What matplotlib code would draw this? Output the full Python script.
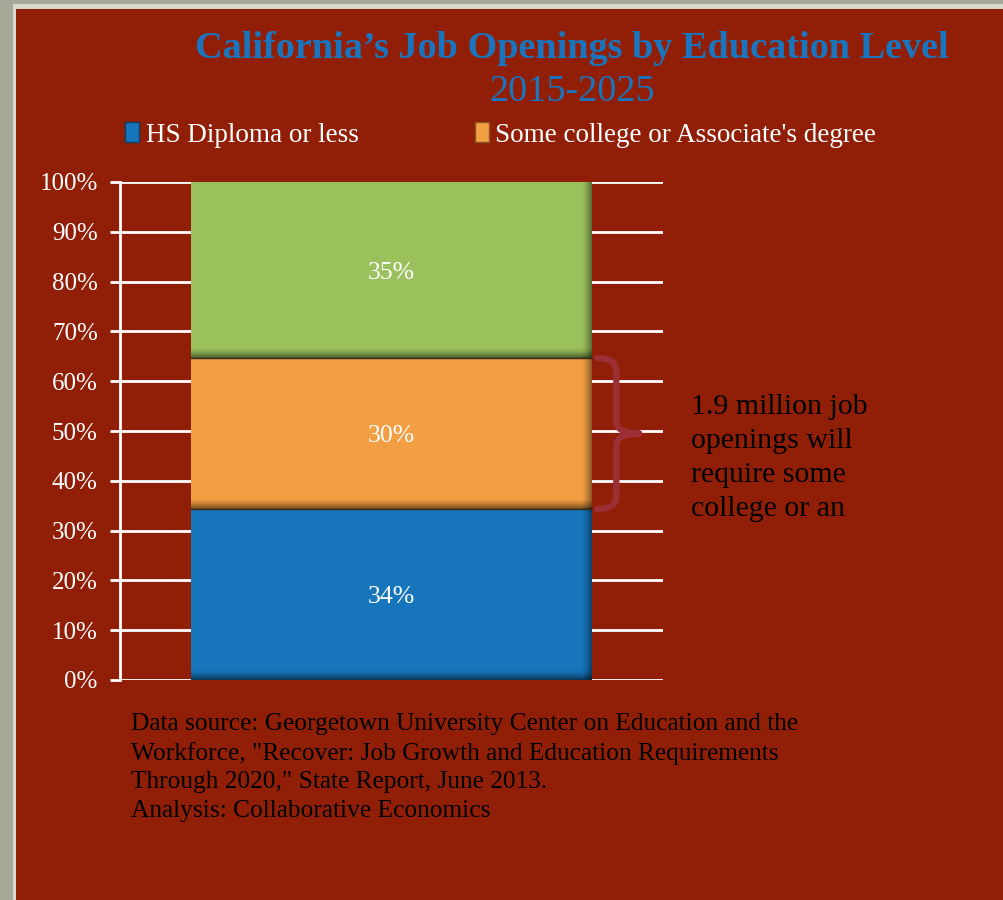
import numpy as np
import matplotlib
matplotlib.use('Agg')
import matplotlib.pyplot as plt
from matplotlib.patches import Patch, Rectangle, PathPatch
from matplotlib.path import Path

# data
categories = ['California']
series_names = ['HS Diploma or less', "Some college or Associate's degree", "Bachelor's degree or higher"]
series_values = [34, 30, 35]
series_labels = ['34%', '30%', '35%']
colors = ['#1675bb', '#f29e42', '#9bc15c']
edge_dark = ['#0e3f66', '#8a5420', '#556b30']
yticks = [0, 10, 20, 30, 40, 50, 60, 70, 80, 90, 100]
note_text = '1.9 million job\nopenings will\nrequire some\ncollege or an'
source_text = ('Data source: Georgetown University Center on Education and the\n'
               'Workforce, "Recover: Job Growth and Education Requirements\n'
               'Through 2020," State Report, June 2013.\n'
               'Analysis: Collaborative Economics')

RED = '#911f08'
plt.rcParams['font.family'] = ['Liberation Serif', 'DejaVu Serif']

fig = plt.figure(figsize=(10.04, 9), dpi=100)
fig.patch.set_facecolor('#a8a898')

# panel background with white edge
W, H = 1004, 900
fig.patches.append(Rectangle((13 / W, 0), 1, 1 - 4 / H, transform=fig.transFigure,
                             facecolor='#d8d8cc', edgecolor='none', zorder=-2))
fig.patches.append(Rectangle((16 / W, 0), 1, 1 - 9 / H, transform=fig.transFigure,
                             facecolor=RED, edgecolor='none', zorder=-1))

ax = fig.add_axes([120 / W, (900 - 680) / H, 543 / W, 498 / H])
ax.set_facecolor('none')

# normalise to 100% stacked
vals = np.array(series_values, dtype=float)
pct = vals / vals.sum() * 100
bottoms = np.concatenate([[0], np.cumsum(pct)[:-1]])
bar_w = 0.737

# black alpha ramps used for the bevel shading
ramp = np.linspace(0, 1, 40) ** 1.6
shade_v = np.zeros((40, 1, 4))
shade_v[:, 0, 3] = ramp * 0.55          # darker toward bottom
shade_h = np.zeros((1, 40, 4))
shade_h[0, :, 3] = ramp * 0.45          # darker toward right edge

for i in range(len(pct)):
    ax.bar(0, pct[i], bottom=bottoms[i], width=bar_w, color=colors[i],
           edgecolor='none', zorder=3)
    ax.imshow(shade_h, extent=(bar_w / 2 - 0.02, bar_w / 2, bottoms[i], bottoms[i] + pct[i]),
              aspect='auto', zorder=4, interpolation='bilinear')
    ax.imshow(shade_v, extent=(-bar_w / 2, bar_w / 2, bottoms[i], bottoms[i] + 2.2),
              aspect='auto', origin='upper', zorder=4, interpolation='bilinear')
    ax.text(0, bottoms[i] + pct[i] / 2, series_labels[i], color='white',
            ha='center', va='center_baseline', fontsize=18.5, zorder=5)
    if i > 0:
        ax.plot([-bar_w / 2, bar_w / 2], [bottoms[i], bottoms[i]], color='#3a2a1a',
                linewidth=1, zorder=5)

ax.set_xlim(-0.5, 0.5)
ax.set_ylim(0, 100)
ax.set_yticks(yticks)
ax.set_yticklabels([f'{t}%' for t in yticks], color='white', fontsize=18)
ax.set_xticks([])
ax.tick_params(axis='y', length=7, width=2, color='white', pad=9)
ax.yaxis.grid(True, color='white', linewidth=2)
ax.set_axisbelow(True)
for s in ['top', 'right', 'bottom']:
    ax.spines[s].set_visible(False)
ax.spines['left'].set_color('white')
ax.spines['left'].set_linewidth(2)

# brace next to the middle segment
y0, y1 = bottoms[1], bottoms[1] + pct[1]
ym = (y0 + y1) / 2
xl, xv, xt = 0.378, 0.414, 0.456
codes = [Path.MOVETO, Path.CURVE3, Path.CURVE3, Path.LINETO,
         Path.CURVE3, Path.CURVE3, Path.MOVETO,
         Path.CURVE3, Path.CURVE3, Path.LINETO,
         Path.CURVE3, Path.CURVE3, Path.LINETO]
verts = [(xl, y1), (xv, y1), (xv, y1 - 2.5), (xv, ym + 2.5),
         (xv, ym), (xt, ym), (xt, ym),
         (xv, ym), (xv, ym - 2.5), (xv, y0 + 2.5),
         (xv, y0), (xl, y0), (xl, y0)]
ax.add_patch(PathPatch(Path(verts, codes), facecolor='none', edgecolor='#9c2e35',
                       linewidth=4.5, capstyle='round', joinstyle='round',
                       clip_on=False, zorder=6))

# annotation
fig.text(691 / W, 1 - 394 / H, note_text, color='black', fontsize=21.5,
         ha='left', va='top', linespacing=1.4)

# title
fig.text(572 / W, 1 - 48 / H, "California\u2019s Job Openings by Education Level",
         color='#1a75bf', fontsize=27.5, fontweight='bold', ha='center', va='center')
fig.text(572 / W, 1 - 92 / H, '2015-2025', color='#1a75bf', fontsize=27.5,
         ha='center', va='center')

# legend (only first two entries visible)
handles = [Patch(facecolor=colors[i], edgecolor=edge_dark[i]) for i in range(2)]
leg = fig.legend(handles, series_names[:2], loc='center left',
                 bbox_to_anchor=(101 / W, 1 - 135 / H), ncol=2, frameon=False,
                 fontsize=19.5, handlelength=0.5, handleheight=0.75,
                 handletextpad=0.25, columnspacing=4.3)
for t in leg.get_texts():
    t.set_color('white')

# source note
fig.text(131 / W, 1 - 713 / H, source_text, color='black', fontsize=18.3,
         ha='left', va='top', linespacing=1.38)

fig.savefig('out.png', dpi=100, facecolor=fig.get_facecolor())
